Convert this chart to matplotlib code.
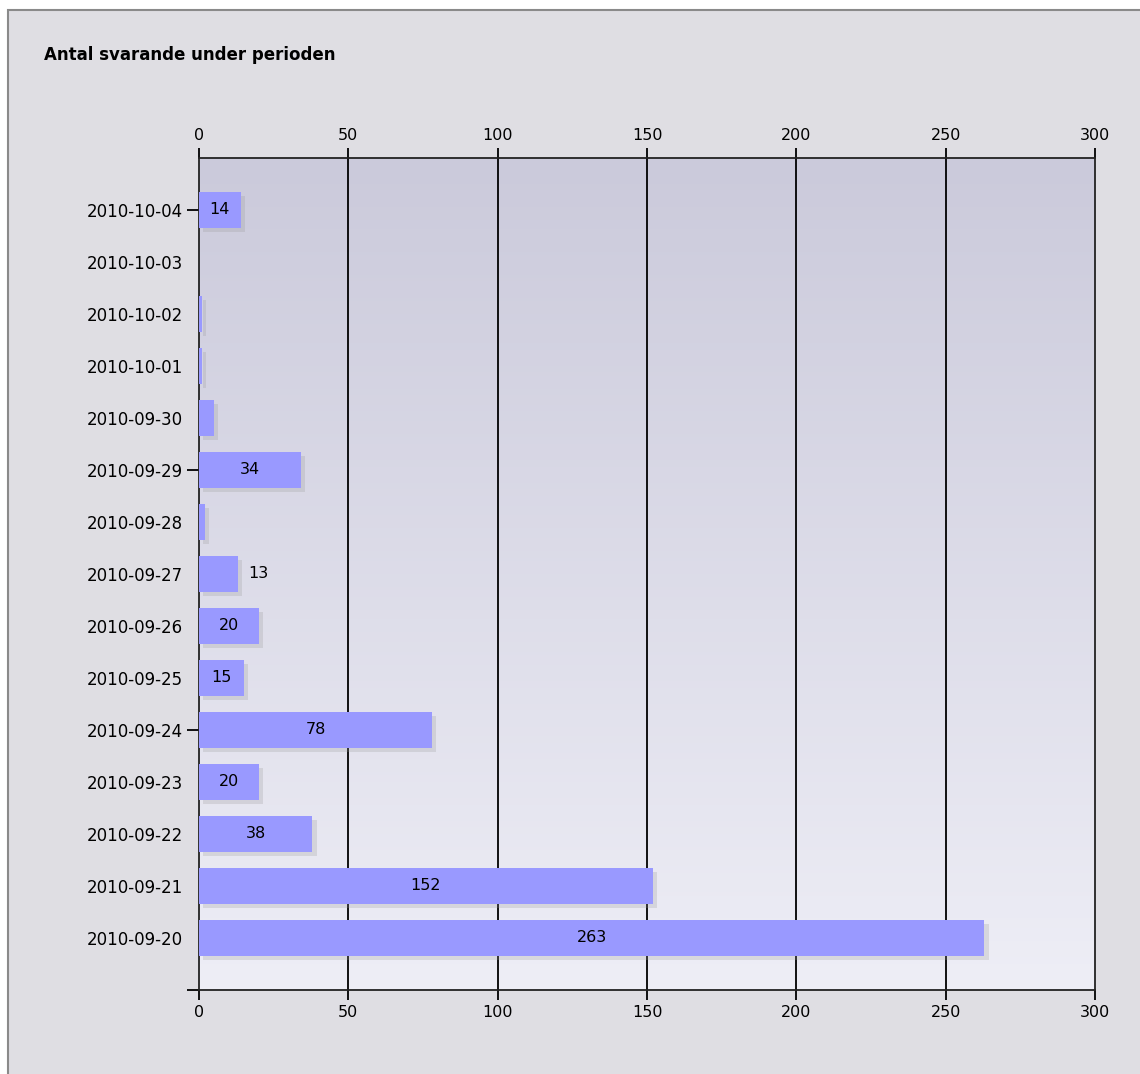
import numpy as np
import matplotlib
matplotlib.use("Agg")
import matplotlib.pyplot as plt
import matplotlib.patheffects as pe
from matplotlib.patches import Rectangle

# data (top to bottom as shown)
dates = ['2010-10-04', '2010-10-03', '2010-10-02', '2010-10-01', '2010-09-30',
         '2010-09-29', '2010-09-28', '2010-09-27', '2010-09-26', '2010-09-25',
         '2010-09-24', '2010-09-23', '2010-09-22', '2010-09-21', '2010-09-20']
counts = [14, 0, 1, 1, 5, 34, 2, 13, 20, 15, 78, 20, 38, 152, 263]
x_ticks = [0, 50, 100, 150, 200, 250, 300]
title = 'Antal svarande under perioden'

plt.rcParams['font.family'] = ['DejaVu Sans']

fig = plt.figure(figsize=(11.4, 10.74), dpi=100)
fig.patch.set_facecolor('white')

# panel with grey border (left and top edges visible only)
W, H = 1140, 1074
fig.patches.append(Rectangle((8 / W, -0.01), 1.1, 1.01 - 10 / H, transform=fig.transFigure,
                             facecolor='#dfdee3', edgecolor='#8a8a8a', lw=1.5, zorder=-5))

fig.text(44 / W, 1 - 55 / H, title, fontsize=12, fontweight='bold', va='center', ha='left')

ax = fig.add_axes([199 / W, 1 - 990 / H, (1095 - 199) / W, (990 - 158) / H])
ax.set_facecolor('none')

# vertical gradient background
grad = np.linspace(0, 1, 256).reshape(-1, 1)
top = np.array(matplotlib.colors.to_rgb('#cbcadb'))
bot = np.array(matplotlib.colors.to_rgb('#eeeef6'))
img = top + (bot - top) * grad[:, :, None]
ax.imshow(img, extent=[0, 1, 0, 1], transform=ax.transAxes, aspect='auto', zorder=-2)

n = len(dates)
ypos = np.arange(n)[::-1]   # 2010-10-04 at top
bars = ax.barh(ypos, counts, height=0.7, color='#9999ff', zorder=3,
               path_effects=[pe.SimplePatchShadow(offset=(3, -3), shadow_rgbFace='#999999', alpha=0.25),
                             pe.Normal()])

for y, v in zip(ypos, counts):
    if v >= 14:
        ax.text(v / 2, y, str(v), ha='center', va='center', fontsize=11.5, zorder=4)
    elif v >= 10:
        ax.text(v + 3.5, y, str(v), ha='left', va='center', fontsize=11.5, zorder=4)

ax.set_xlim(0, 300)
ax.set_ylim(-1, 15)

# grid
for xv in x_ticks[1:-1]:
    ax.axvline(xv, color='black', lw=1.3, zorder=1)

for s in ax.spines.values():
    s.set_color('#222222')
    s.set_linewidth(1.3)

ax.set_xticks(x_ticks)
ax.tick_params(axis='x', which='both', top=True, labeltop=True, bottom=True, labelbottom=True,
               direction='out', length=7, width=1.3, labelsize=11.5, pad=4)

ax.set_yticks(ypos)
ax.set_yticklabels(dates)
ax.yaxis.remove_overlapping_locs = False
ax.set_yticks([-1, 4, 9, 14], minor=True)
ax.tick_params(axis='y', which='major', length=0, labelsize=12, pad=11.5)
ax.tick_params(axis='y', which='minor', length=9, width=1.3)

fig.savefig('out.png', dpi=100)
